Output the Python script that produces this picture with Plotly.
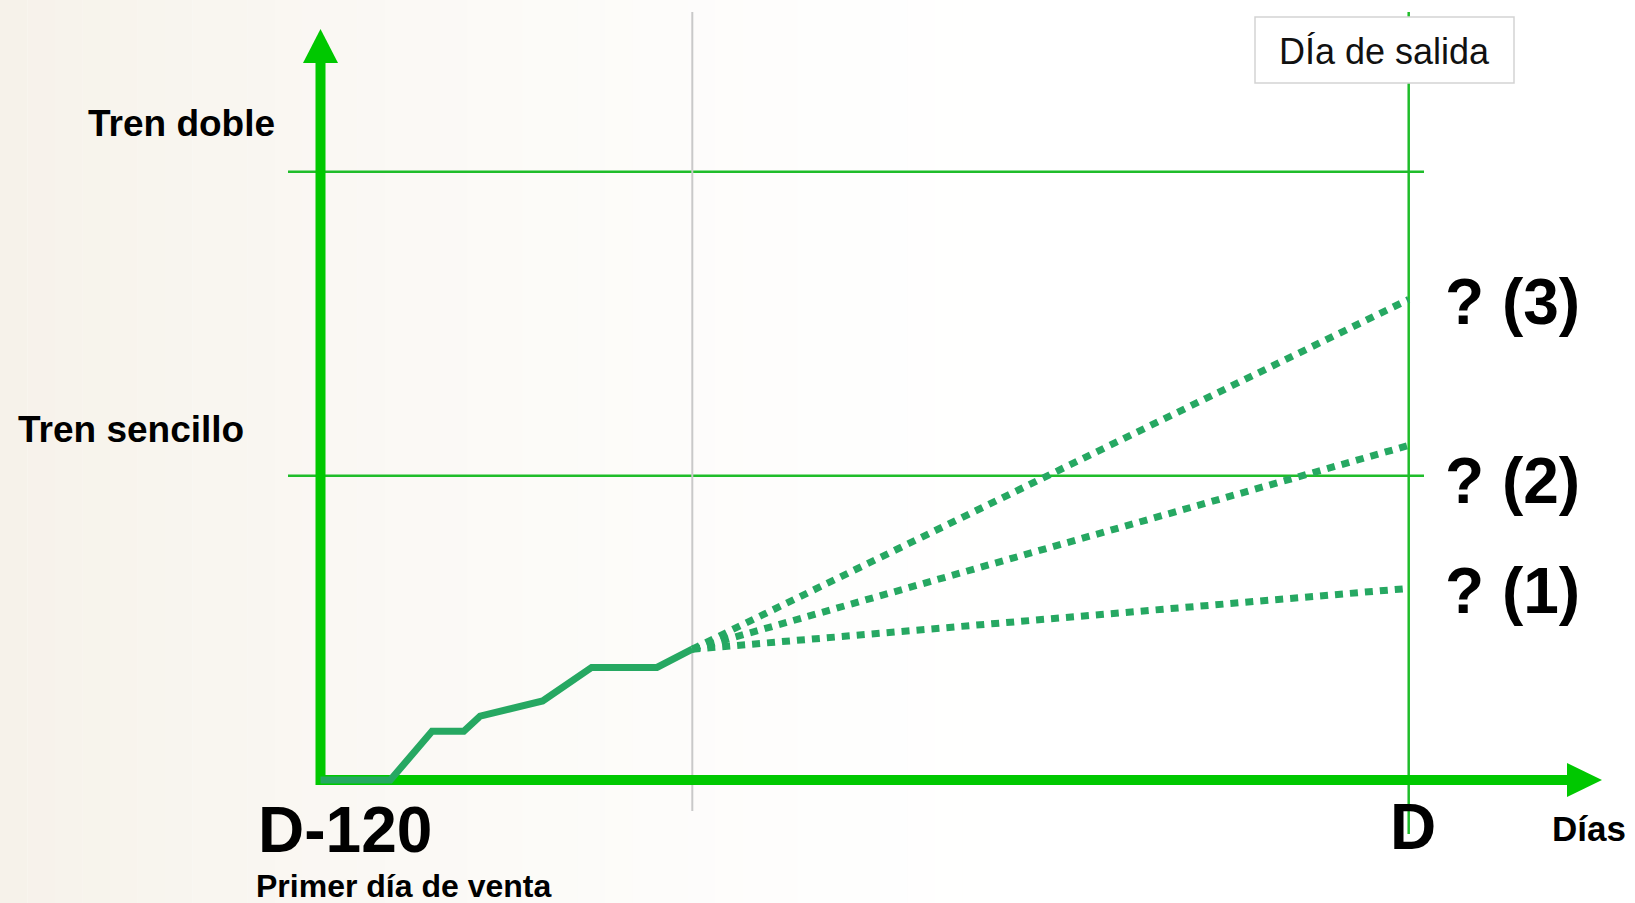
import plotly.graph_objects as go

# ---------------- data ----------------
days = [-120, -112.3, -107.7, -104.2, -102.4, -95.5, -90.1, -82.9, -79]
sales = [0, 0, 0.16, 0.16, 0.21, 0.26, 0.37, 0.37, 0.43]
scenario_names = ["? (1)", "? (2)", "? (3)"]
scenario_end = [0.63, 1.10, 1.58]
scenario_label_px = [591, 481, 302]
departure_day = 0
threshold_names = ["Tren sencillo", "Tren doble"]
threshold_values = [1, 2]

W, H = 1635, 903
X0_PX, XD_PX = 320.5, 1408.7   # pixel of day -120 and day 0
Y0_PX, YU = 780.0, 304.15      # pixel of 0 and pixels per unit


def xd(px):
    return -120 + (px - X0_PX) * 120 / (XD_PX - X0_PX)


def yd(py):
    return (Y0_PX - py) / YU


AXIS_GREEN = "#00c800"
LINE_GREEN = "#1fbd2a"
DATA_GREEN = "#26a862"
FONT = "Liberation Sans"

fig = go.Figure()

# actual sales
fig.add_trace(go.Scatter(x=days, y=sales, mode="lines",
                         line=dict(color=DATA_GREEN, width=7),
                         hoverinfo="skip", showlegend=False))
# scenarios
for name, end in zip(scenario_names, scenario_end):
    fig.add_trace(go.Scatter(x=[days[-1], departure_day], y=[sales[-1], end],
                             mode="lines",
                             line=dict(color=DATA_GREEN, width=7, dash="8px,7px"),
                             hoverinfo="skip", showlegend=False, name=name))

shapes = []
# background tint (smooth approximation of the decorative pattern)
N = 40
for i in range(N):
    a = i * 1100 / N
    b = (i + 1) * 1100 / N
    t = i / (N - 1)
    alpha = 0.62 * (1 - t) ** 1.6
    shapes.append(dict(type="rect", xref="paper", yref="paper", x0=a / W, x1=b / W,
                       y0=0, y1=1, fillcolor=f"rgba(241,234,221,{alpha:.3f})",
                       line=dict(width=0), layer="below"))

# thresholds
for v in threshold_values:
    shapes.append(dict(type="line", x0=xd(288), x1=xd(1424), y0=v, y1=v,
                       line=dict(color=LINE_GREEN, width=2.5), layer="below"))
# today line (gray)
shapes.append(dict(type="line", x0=days[-1], x1=days[-1], y0=yd(811), y1=yd(12),
                   line=dict(color="#c9c9c9", width=2), layer="below"))
# departure day line
shapes.append(dict(type="line", x0=departure_day, x1=departure_day, y0=yd(834), y1=yd(12),
                   line=dict(color=LINE_GREEN, width=2.5), layer="below"))
# axes
shapes.append(dict(type="line", x0=days[0], x1=days[0], y0=yd(785), y1=yd(60),
                   line=dict(color=AXIS_GREEN, width=10), layer="below"))
shapes.append(dict(type="path",
                   path=f"M {xd(303)},{yd(63)} L {xd(338)},{yd(63)} L {xd(320.5)},{yd(29)} Z",
                   fillcolor=AXIS_GREEN, line=dict(width=0), layer="below"))
shapes.append(dict(type="line", x0=xd(316), x1=xd(1570), y0=0, y1=0,
                   line=dict(color=AXIS_GREEN, width=10), layer="below"))
shapes.append(dict(type="path",
                   path=f"M {xd(1567)},{yd(763)} L {xd(1567)},{yd(797)} L {xd(1602)},{yd(780)} Z",
                   fillcolor=AXIS_GREEN, line=dict(width=0), layer="below"))
# departure box
shapes.append(dict(type="rect", xref="paper", yref="paper",
                   x0=1255 / W, x1=1514 / W, y0=1 - 83 / H, y1=1 - 17 / H,
                   fillcolor="white", line=dict(color="#d3d3d3", width=1.5), layer="above"))

ann = []


def text(t, xpx, ypx, size, bold=True, xanchor="center", color="black"):
    ann.append(dict(text=t, xref="paper", yref="paper", x=xpx / W, y=1 - ypx / H,
                    xanchor=xanchor, yanchor="middle", showarrow=False,
                    font=dict(family=FONT, size=size, color=color,
                              weight="bold" if bold else "normal")))


text(threshold_names[1], 86, 124, 37, xanchor="left")
text(threshold_names[0], 16, 429, 37, xanchor="left")
text("D-120", 256, 830, 64, xanchor="left")
text("Primer día de venta", 254, 886, 32, xanchor="left")
text("D", 1413, 827, 64)
text("Días", 1589, 828, 35)
text("DÍa de salida", 1384, 51, 36, bold=False, color="#111111")
for name, ypx in zip(scenario_names, scenario_label_px):
    text(name, 1582, ypx, 64, xanchor="right")

fig.update_layout(
    width=W, height=H, autosize=False,
    margin=dict(l=0, r=0, t=0, b=0),
    paper_bgcolor="white", plot_bgcolor="rgba(0,0,0,0)",
    xaxis=dict(range=[xd(0), xd(W)], visible=False, fixedrange=True),
    yaxis=dict(range=[yd(H), yd(0)], visible=False, fixedrange=True),
    shapes=shapes, annotations=ann, showlegend=False,
)

fig.write_html("out.html")
